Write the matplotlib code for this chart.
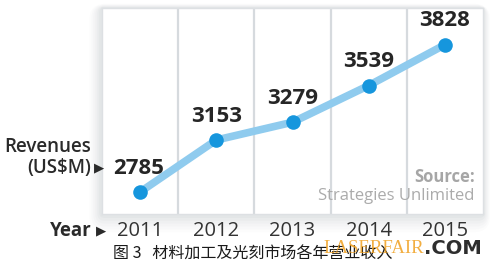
import matplotlib
matplotlib.use("Agg")
import matplotlib.pyplot as plt
from matplotlib.patches import FancyBboxPatch

years = [2011, 2012, 2013, 2014, 2015]
revenues = [2785, 3153, 3279, 3539, 3828]
year_labels = ["2011", "2012", "2013", "2014", "2015"]
caption = "图 3   材料加工及光刻市场各年营业收入"

W, H = 496, 270
fig = plt.figure(figsize=(W / 100, H / 100), dpi=100)
fig.patch.set_facecolor("white")

# panel geometry in pixels
px_l, px_r, px_t, px_b = 102, 483, 8, 214


def fx(x):
    return x / W


def fy(y):
    return 1 - y / H


# soft shadow behind the panel
bg = fig.add_axes([0, 0, 1, 1])
bg.set_xlim(0, W)
bg.set_ylim(H, 0)
bg.axis("off")
for i, a in enumerate([0.025, 0.03, 0.035, 0.04, 0.05, 0.06]):
    g = 14 - i * 2.2
    bg.add_patch(FancyBboxPatch((px_l - g * 0.9, px_t - g * 0.3),
                                (px_r - px_l) + g * 1.4, (px_b - px_t) + g * 1.6,
                                boxstyle="round,pad=0,rounding_size=%.1f" % (g + 2),
                                facecolor="#8a96a0", edgecolor="none", alpha=a))

ax = fig.add_axes([fx(px_l), fy(px_b), (px_r - px_l) / W, (px_b - px_t) / H])
ax.set_facecolor("white")
ax.set_xlim(2010.5, 2015.5)
ax.set_ylim(2629, 4088)
for s in ax.spines.values():
    s.set_color("#dde0e3")
    s.set_linewidth(1.0)
ax.set_xticks([])
ax.set_yticks([])
for x in years[:-1]:
    ax.axvline(x + 0.5, color="#d6dade", lw=1.6, zorder=1)

ax.plot(years, revenues, color="#8fcbee", lw=5.5, solid_capstyle="round", zorder=2)
ax.plot(years, revenues, "o", color="#1696dd", ms=10.5, mec="none", zorder=3)

num_font = dict(family="Open Sans", fontweight="bold", fontsize=16, color="#262626")
for x, v in zip(years[1:], revenues[1:]):
    ax.annotate(str(v), (x, v), xytext=(0, 24), textcoords="offset pixels",
                ha="center", va="center", **num_font)
ax.annotate(str(revenues[0]), (years[0], revenues[0]), xytext=(-1, 23),
            textcoords="offset pixels", ha="center", va="center", **num_font)

ax.text(0.978, 0.18, "Source:", transform=ax.transAxes, ha="right", va="center",
        family="Open Sans", fontweight="bold", fontsize=12, color="#a6a6a6")
ax.text(0.978, 0.085, "Strategies Unlimited", transform=ax.transAxes, ha="right",
        va="center", family="Open Sans", fontsize=12, color="#ababab")

# y-axis title with pointer
fig.text(fx(48), fy(147), "Revenues", ha="center", va="center",
         family="Open Sans", fontweight="semibold", fontsize=13.5, color="#2a2a2a")
fig.text(fx(91), fy(168), "(US$M)", ha="right", va="center",
         family="Open Sans", fontweight="semibold", fontsize=13.5, color="#2a2a2a")
fig.text(fx(94), fy(168), "▶", ha="left", va="center",
         family="DejaVu Sans", fontsize=9.5, color="#2a2a2a")

# x-axis title and year labels
fig.text(fx(92), fy(231), "Year", ha="right", va="center",
         family="Open Sans", fontweight="bold", fontsize=13.5, color="#2a2a2a")
fig.text(fx(96), fy(231), "▶", ha="left", va="center",
         family="DejaVu Sans", fontsize=9.5, color="#2a2a2a")
for x, lab in zip(years, year_labels):
    xd = ax.transData.transform((x, 0))[0] / fig.dpi / fig.get_figwidth()
    fig.text(xd, fy(231), lab, ha="center", va="center",
             family="Open Sans", fontsize=14.5, color="#333333")

fig.text(fx(113), fy(254), caption, ha="left", va="center",
         family=["Noto Sans CJK SC", "DejaVu Sans"], fontsize=11.5, color="#1a1a1a")

fig.text(fx(323), fy(248.5), "LASERFAIR", ha="left", va="center",
         family="Liberation Serif", fontsize=13.5, color="#f0a020", alpha=0.85)
fig.text(fx(482), fy(248), ".COM", ha="right", va="center",
         family="DejaVu Sans", fontweight="bold", fontsize=14, color="#2e2e2e")

fig.savefig("out.png", dpi=100, facecolor="white")
